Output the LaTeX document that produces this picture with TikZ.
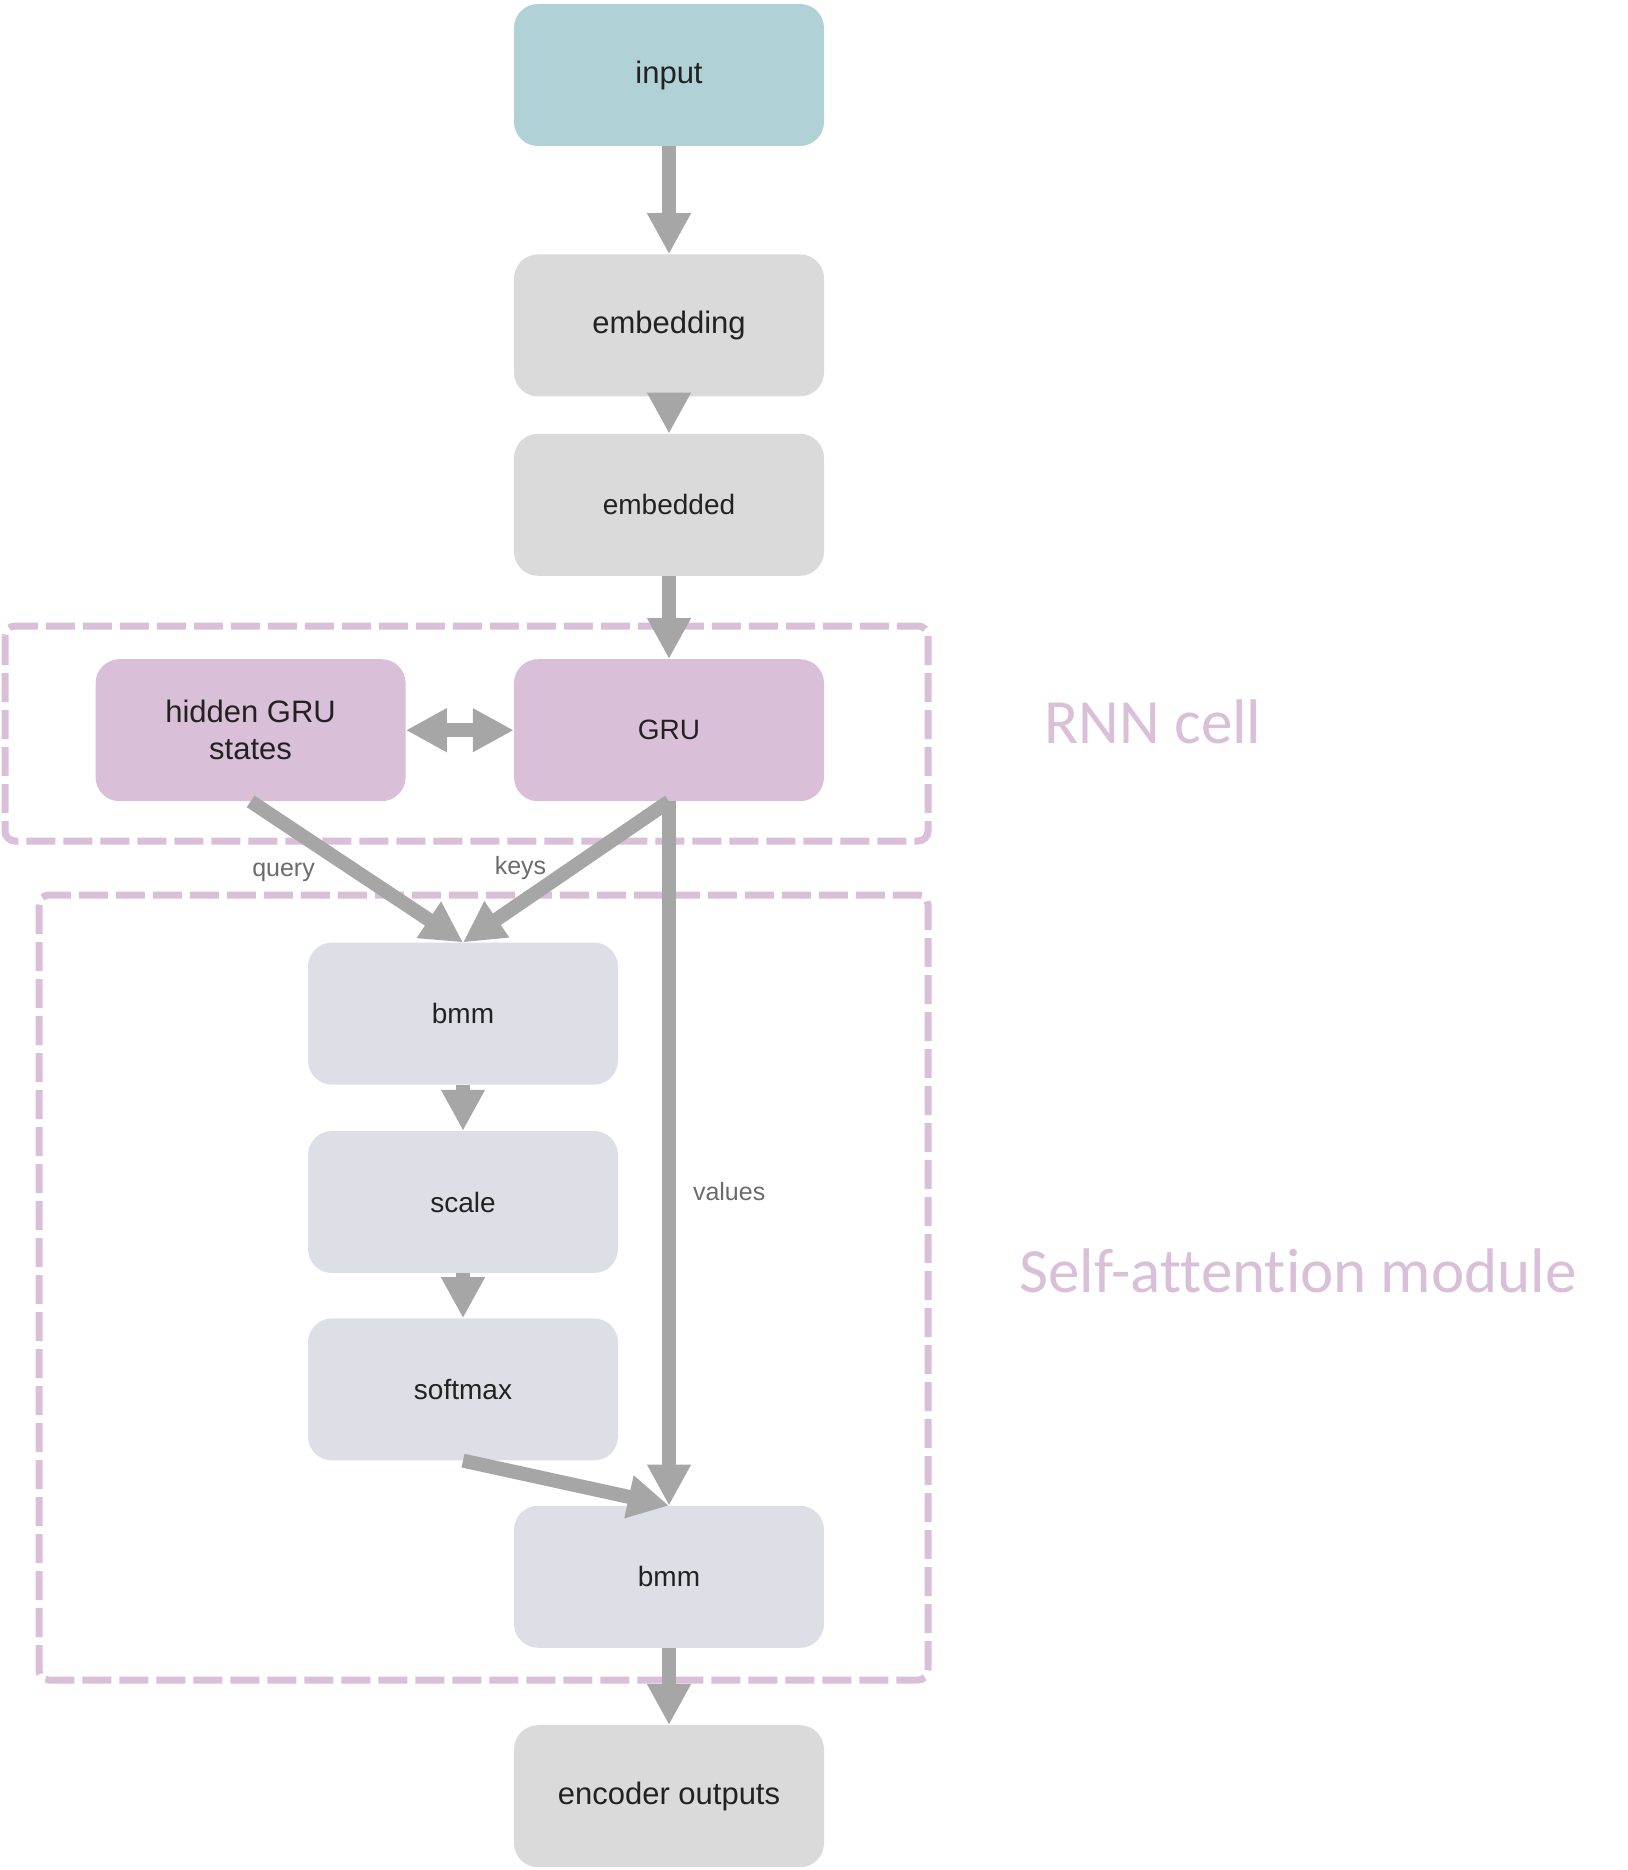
\documentclass[tikz,border=0pt]{standalone}
\usepackage{fontspec}
\setmainfont{Liberation Sans}
\newfontfamily\calibri[Ligatures=NoCommon]{Carlito}
\usetikzlibrary{positioning,arrows.meta}

\definecolor{inputcol}{HTML}{B0D2D6}
\definecolor{greycol}{HTML}{DADADA}
\definecolor{rnncol}{HTML}{D9BFD8}
\definecolor{attcol}{HTML}{DEDEE6}
\definecolor{arrowcol}{HTML}{A6A6A6}
\definecolor{labelcol}{HTML}{6B6B6B}
\definecolor{textcol}{HTML}{222222}

\tikzset{
	block/.style={rectangle, rounded corners=24pt, minimum width=310pt, minimum height=142pt,
		inner sep=0pt, align=center, text=textcol, font=\fontsize{28}{34}\selectfont},
	big/.style={font=\fontsize{31}{37}\selectfont},
	flow/.style={draw=arrowcol, line width=14pt, -{Triangle[length=41pt,width=41pt]}},
	twoway/.style={draw=arrowcol, line width=14pt,
		{Triangle[length=41pt,width=41pt]}-{Triangle[length=41pt,width=41pt]}},
	edgelabel/.style={text=labelcol, inner sep=0pt, font=\fontsize{25}{30}\selectfont},
	group/.style={draw=rnncol, line width=7pt, dash pattern=on 29pt off 8pt, rounded corners=10pt},
	grouplabel/.style={text=rnncol, font=\calibri\fontsize{63}{76}\selectfont}
}

\begin{document}
\begin{tikzpicture}
	\useasboundingbox (0pt,0pt) rectangle (1627pt,-1870pt);

	% RNN cell and self-attention frames
	\draw[group] (5pt,-626pt) rectangle (928pt,-841pt);
	\draw[group] (39pt,-895pt) rectangle (928pt,-1680pt);
	\node[grouplabel, anchor=base] (rnnlabel) at (1153pt,-743pt) {RNN cell};
	\node[grouplabel, anchor=base] (attlabel) at (1298pt,-1292pt) {Self-attention module};

	\node[block, big, fill=inputcol] (input) at (669pt,-75pt) {input};
	\node[block, big, fill=greycol, below=108pt of input] (embedding) {embedding};
	\node[block, fill=greycol, below=37pt of embedding] (embedded) {embedded};
	\node[block, fill=rnncol, below=83pt of embedded] (gru) {GRU};
	\node[block, big, fill=rnncol, left=108pt of gru] (hidden) {hidden GRU\\states};
	\node[block, fill=attcol, below=141pt of gru, xshift=-206pt] (bmmA) {bmm};
	\node[block, fill=attcol, below=46pt of bmmA] (scale) {scale};
	\node[block, fill=attcol, below=45pt of scale] (softmax) {softmax};
	\node[block, fill=attcol, below=45pt of softmax, xshift=206pt] (bmmB) {bmm};
	\node[block, big, fill=greycol, below=77pt of bmmB] (output) {encoder outputs};

	\draw[flow] (input) -- (embedding);
	\draw[flow] (embedding) -- (embedded);
	\draw[flow] (embedded) -- (gru);
	\draw[twoway] (hidden) -- (gru);
	\draw[flow] (hidden.south) -- node[edgelabel, pos=0.5, left=35pt] {query} (bmmA.north);
	\draw[flow] (gru.south) -- node[edgelabel, pos=0.47, left=19pt] {keys} (bmmA.north);
	\draw[flow] (gru.south) -- node[edgelabel, pos=0.554, right=17pt] {values} (bmmB.north);
	\draw[flow] (bmmA) -- (scale);
	\draw[flow] (scale) -- (softmax);
	\draw[flow] (softmax.south) -- (bmmB.north);
	\draw[flow] (bmmB) -- (output);
\end{tikzpicture}
\end{document}
